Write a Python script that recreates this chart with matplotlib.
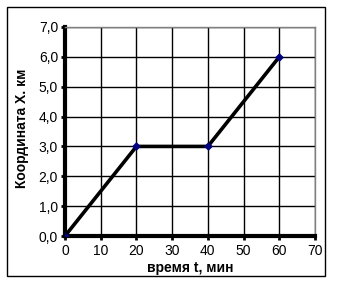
import matplotlib
matplotlib.use('Agg')
import matplotlib.pyplot as plt
from matplotlib.patches import Rectangle

# данные: время (мин) и координата (км)
t_min = [0, 20, 40, 60]
x_km = [0.0, 3.0, 3.0, 6.0]

x_ticks = [0, 10, 20, 30, 40, 50, 60, 70]
y_ticks = [0, 1, 2, 3, 4, 5, 6, 7]
x_label = 'время t, мин'
y_label = 'Координата Х. км'

plt.rcParams['font.family'] = ['Liberation Sans', 'DejaVu Sans']

W, H = 337, 284
fig = plt.figure(figsize=(W / 100, H / 100), dpi=100)
fig.patch.set_facecolor('white')

# рамка вокруг диаграммы
fig.add_artist(Rectangle((7 / W, 1 - 276 / H), 318 / W, 269 / H,
                         transform=fig.transFigure, fill=False,
                         edgecolor='black', linewidth=1))

ax = fig.add_axes([65 / W, 1 - 236 / H, 250 / W, 209 / H])
ax.plot(t_min, x_km, color='black', linewidth=2.6, zorder=3)
ax.plot(t_min, x_km, linestyle='none', marker='D', markersize=3.5,
        color='#000080', zorder=4)

ax.set_xlim(0, 70)
ax.set_ylim(0, 7)
ax.set_xticks(x_ticks)
ax.set_yticks(y_ticks)
ax.set_xticklabels([str(v) for v in x_ticks])
ax.set_yticklabels([('%.1f' % v).replace('.', ',') for v in y_ticks])
ax.grid(True, color='black', linewidth=1)
ax.set_axisbelow(True)

for side in ['top', 'right']:
    ax.spines[side].set_color('#808080')
    ax.spines[side].set_linewidth(1)
for side in ['left', 'bottom']:
    ax.spines[side].set_color('black')
    ax.spines[side].set_linewidth(3)

ax.tick_params(axis='both', direction='out', length=3, width=2,
               labelsize=10, colors='black', pad=2)
ax.tick_params(axis='x', pad=3)

# подписи осей
fig.text(190 / W, 1 - 261 / H, x_label, fontsize=10, fontweight='bold',
         ha='center', va='top')
fig.text(22 / W, 1 - 128 / H, y_label, fontsize=10, fontweight='bold',
         ha='center', va='center', rotation=90)

plt.savefig('out.png', dpi=100)
plt.close()
